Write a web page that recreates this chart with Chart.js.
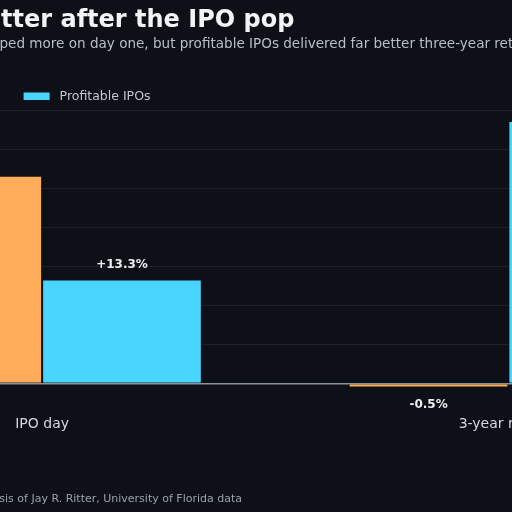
<!DOCTYPE html>
<html>
<head>
<meta charset="utf-8">
<script src="https://cdn.jsdelivr.net/npm/chart.js@4.4.1/dist/chart.umd.min.js"></script>
<style>
  html, body { margin: 0; padding: 0; background: #0d1017; }
  #wrap { position: relative; width: 512px; height: 512px; overflow: hidden; background: #0d1017; }
  #chart { position: absolute; left: -300px; top: 0; }
</style>
</head>
<body>
<div id="wrap">
  <canvas id="chart" width="1100" height="512"></canvas>
</div>
<script>
// Data
const categories = ["IPO day", "3-year returns"];
const seriesNames = ["Unprofitable IPOs", "Profitable IPOs"];
const unprofitableReturns = [26.6, -0.5];
const profitableReturns = [13.3, 33.6];
const yTicks = [0, 5, 10, 15, 20, 25, 30, 35];

const titleText = "Profits matter after the IPO pop";
const subtitleText = "Unprofitable IPOs popped more on day one, but profitable IPOs delivered far better three-year returns";
const sourceText = "Source: Author's analysis of Jay R. Ritter, University of Florida data";

const bg = "#0d1017";
const colors = ["#ffad5a", "#48d6ff"];
const font = "'DejaVu Sans', sans-serif";

// title, subtitle, legend and source line
const frameText = {
    id: "frameText",
    afterDraw(chart) {
        const ctx = chart.ctx;
        ctx.save();
        ctx.textBaseline = "alphabetic";
        ctx.textAlign = "left";

        ctx.fillStyle = "#f2f3f5";
        ctx.font = "bold 24px " + font;
        ctx.fillText(titleText, 162, 27);

        ctx.fillStyle = "#b9bec7";
        ctx.font = "13.55px " + font;
        ctx.fillText(subtitleText, 152, 48);

        ctx.fillStyle = "#9ca1a9";
        ctx.font = "11px " + font;
        ctx.fillText(sourceText, 175, 502);

        // legend
        ctx.font = "12.5px " + font;
        ctx.textBaseline = "middle";
        let x = 149;
        chart.data.datasets.forEach((ds) => {
            ctx.fillStyle = ds.backgroundColor;
            ctx.fillRect(x, 92.5, 26, 7.5);
            ctx.fillStyle = "#c4c8cf";
            ctx.fillText(ds.label, x + 36, 96.5);
            x += 36 + ctx.measureText(ds.label).width + 30;
        });
        ctx.restore();
    }
};

// value labels above / below bars
const barLabels = {
    id: "barLabels",
    afterDatasetsDraw(chart) {
        const ctx = chart.ctx;
        ctx.save();
        ctx.font = "bold 12px " + font;
        ctx.fillStyle = "#eceef1";
        ctx.textAlign = "center";
        ctx.textBaseline = "middle";
        chart.data.datasets.forEach((ds, i) => {
            chart.getDatasetMeta(i).data.forEach((bar, j) => {
                const v = ds.data[j];
                const txt = (v > 0 ? "+" : "") + v.toFixed(1) + "%";
                const y = v >= 0 ? bar.y - 15 : bar.y + 17;
                ctx.fillText(txt, bar.x, y);
            });
        });
        ctx.restore();
    }
};

new Chart(document.getElementById("chart"), {
    type: "bar",
    plugins: [frameText, barLabels],
    data: {
        labels: categories,
        datasets: [
            {
                label: seriesNames[0],
                data: unprofitableReturns,
                backgroundColor: colors[0],
                borderColor: bg,
                borderWidth: 1,
                categoryPercentage: 0.685,
                barPercentage: 1
            },
            {
                label: seriesNames[1],
                data: profitableReturns,
                backgroundColor: colors[1],
                borderColor: bg,
                borderWidth: 1,
                categoryPercentage: 0.685,
                barPercentage: 1
            }
        ]
    },
    options: {
        responsive: false,
        animation: false,
        layout: {
            padding: { left: 59, right: 58.5, top: 110, bottom: 61.8 }
        },
        plugins: {
            legend: { display: false },
            tooltip: { enabled: false }
        },
        scales: {
            x: {
                grid: { display: false },
                border: { display: false },
                ticks: {
                    color: "#d5d8de",
                    font: { family: font, size: 14 },
                    padding: 17,
                    maxRotation: 0
                }
            },
            y: {
                min: -1,
                max: 35,
                afterBuildTicks: (scale) => {
                    scale.ticks = yTicks.map((v) => ({ value: v }));
                },
                afterFit: (scale) => {
                    scale.width = 50;
                },
                border: { display: false },
                grid: {
                    drawTicks: false,
                    color: (c) => (c.tick && c.tick.value === 0 ? "#8d939b" : "#1d2129"),
                    lineWidth: (c) => (c.tick && c.tick.value === 0 ? 1.5 : 1)
                },
                ticks: {
                    color: "#9ca1a9",
                    font: { family: font, size: 12 },
                    callback: (v) => v + "%"
                }
            }
        }
    }
});
</script>
</body>
</html>
